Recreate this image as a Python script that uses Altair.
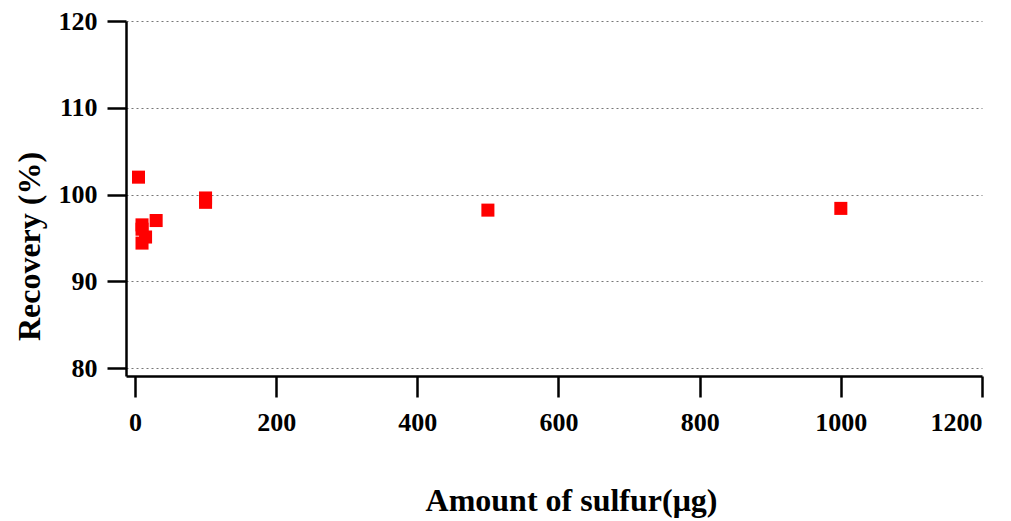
import altair as alt
import pandas as pd

# Sulfur amount (µg) and recovery (%) measurements
amount_ug = [5, 10, 10, 15, 10, 30, 100, 100, 500, 1000]
recovery_pct = [102.0, 96.5, 96.0, 95.1, 94.4, 97.0, 99.6, 99.1, 98.2, 98.4]

x_ticks = [0, 200, 400, 600, 800, 1000, 1200]
y_ticks = [80, 90, 100, 110, 120]

df = pd.DataFrame({"amount": amount_ug, "recovery": recovery_pct})

FONT = "Liberation Serif"

points = alt.Chart(df).mark_square(size=170, color="#ff0000", opacity=1).encode(
    x=alt.X(
        "amount:Q",
        scale=alt.Scale(domain=[-12.7, 1200], nice=False, zero=False),
        axis=alt.Axis(
            values=x_ticks,
            format="d",
            title="Amount of sulfur(μg)",
            grid=False,
            tickSize=21,
            tickWidth=2.5,
            tickColor="black",
            domainColor="black",
            domainWidth=2.5,
            labelFont=FONT,
            labelFontWeight="bold",
            labelFontSize=26,
            labelColor="black",
            labelPadding=12,
            titleFont=FONT,
            titleFontWeight="bold",
            titleFontSize=32,
            titleColor="black",
            titlePadding=50,
            titleX=445,
        ),
    ),
    y=alt.Y(
        "recovery:Q",
        scale=alt.Scale(domain=[79.08, 120], nice=False, zero=False),
        axis=alt.Axis(
            values=y_ticks,
            format="d",
            title="Recovery (%)",
            grid=True,
            gridColor="#777777",
            gridDash=[2, 3],
            gridWidth=1,
            tickSize=19,
            tickWidth=2.5,
            tickColor="black",
            domainColor="black",
            domainWidth=2.5,
            labelFont=FONT,
            labelFontWeight="bold",
            labelFontSize=26,
            labelColor="black",
            labelPadding=10,
            titleFont=FONT,
            titleFontWeight="bold",
            titleFontSize=32,
            titleColor="black",
            titlePadding=12,
            titleY=225,
        ),
    ),
)

chart = points.properties(
    width=856,
    height=355,
    autosize=alt.AutoSizeParams(type="none"),
    padding={"left": 126, "top": 21, "right": 29, "bottom": 145},
    background="white",
).configure_view(stroke=None)

chart.save("out.html", embed_options={"renderer": "svg", "actions": False})
